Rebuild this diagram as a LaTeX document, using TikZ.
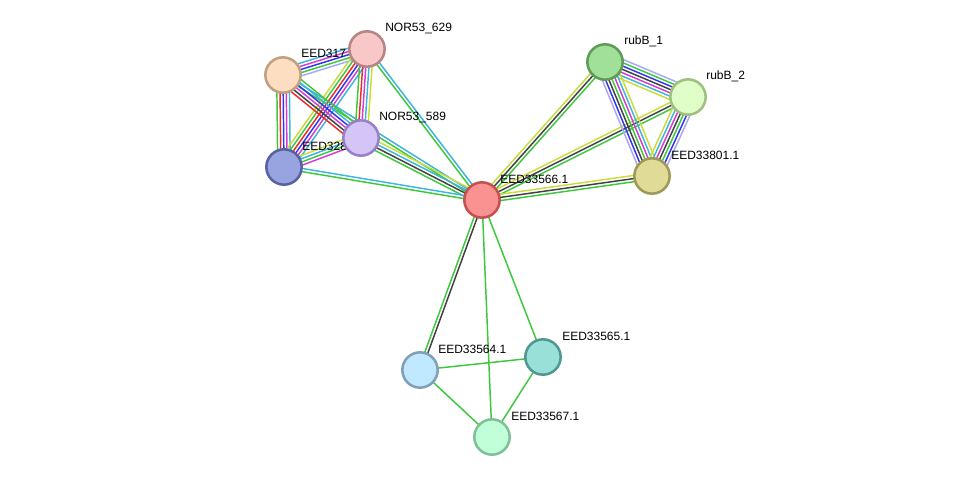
\documentclass[tikz,border=0pt]{standalone}
\usepackage{fontspec}
\setmainfont{Liberation Sans}
\usetikzlibrary{calc}
\pgfdeclarelayer{edges}
\pgfdeclarelayer{labels}
\pgfsetlayers{edges,labels,main}
\definecolor{eg}{HTML}{3CC83C}
\definecolor{er}{HTML}{F02828}
\definecolor{eb}{HTML}{3232F0}
\definecolor{ek}{HTML}{404040}
\definecolor{em}{HTML}{D23CD2}
\definecolor{ec}{HTML}{3CB4DC}
\definecolor{ey}{HTML}{C8DC3C}
\definecolor{el}{HTML}{A8A8F4}
\tikzset{
  prot/.style={circle,inner sep=0pt,minimum size=26.5pt,line width=1.9pt},
  lbl/.style={anchor=west,inner sep=0pt,font=\fontsize{9pt}{10pt}\selectfont,text=black},
  eline/.style={line width=1.1pt}
}
\newcommand\bundle[4]{%
  \foreach \cc [count=\ii] in {#4}{%
    \pgfmathsetmacro\oo{(\ii-(#3+1)/2)*2.35}%
    \draw[eline,draw=\cc] ($(#1)!\oo pt!90:(#2)$) -- ($(#2)!\oo pt!-90:(#1)$);
  }%
}
\begin{document}
\begin{tikzpicture}[x=0.75pt,y=-0.75pt]
\useasboundingbox (0,0) rectangle (975,483);
% nodes
\node[prot,fill={rgb,255:red,250;green,146;blue,146},draw={rgb,255:red,196;green,80;blue,80}] (c) at (482,200) {};
\node[prot,fill={rgb,255:red,248;green,200;blue,200},draw={rgb,255:red,184;green,132;blue,132}] (n629) at (367,49) {};
\node[prot,fill={rgb,255:red,253;green,222;blue,192},draw={rgb,255:red,192;green,160;blue,128}] (e317) at (283,75) {};
\node[prot,fill={rgb,255:red,212;green,196;blue,248},draw={rgb,255:red,152;green,128;blue,200}] (n589) at (361,138) {};
\node[prot,fill={rgb,255:red,152;green,164;blue,224},draw={rgb,255:red,88;green,98;blue,160}] (e328) at (284,167) {};
\node[prot,fill={rgb,255:red,160;green,224;blue,152},draw={rgb,255:red,96;green,156;blue,88}] (rb1) at (605,62) {};
\node[prot,fill={rgb,255:red,224;green,255;blue,200},draw={rgb,255:red,160;green,192;blue,128}] (rb2) at (688,97) {};
\node[prot,fill={rgb,255:red,224;green,220;blue,152},draw={rgb,255:red,160;green,152;blue,88}] (e801) at (652,176) {};
\node[prot,fill={rgb,255:red,192;green,232;blue,255},draw={rgb,255:red,128;green,160;blue,184}] (e64) at (420,370) {};
\node[prot,fill={rgb,255:red,152;green,224;blue,216},draw={rgb,255:red,80;green,152;blue,144}] (e65) at (543,357) {};
\node[prot,fill={rgb,255:red,192;green,255;blue,216},draw={rgb,255:red,128;green,192;blue,152}] (e67) at (492,437) {};
% labels
\begin{pgfonlayer}{labels}
\node[lbl] (lc) at (500,179) {EED33566.1};
\node[lbl] (l629) at (385,28) {NOR53\_629};
\node[lbl] (l317) at (301,53) {EED317};
\node[lbl] (l589) at (379,117) {NOR53\_589};
\node[lbl] (l328) at (302,146) {EED328};
\node[lbl] (lrb1) at (624,41) {rubB\_1};
\node[lbl] (lrb2) at (706,76) {rubB\_2};
\node[lbl] (l801) at (671,155) {EED33801.1};
\node[lbl] (l64) at (438,349) {EED33564.1};
\node[lbl] (l65) at (562,336) {EED33565.1};
\node[lbl] (l67) at (511,416) {EED33567.1};
\end{pgfonlayer}
% edges
\begin{pgfonlayer}{edges}
\bundle{c}{n629}{2}{ec,eg}
\bundle{c}{e317}{2}{ec,eg}
\bundle{c}{n589}{4}{ey,ec,ek,eg}
\bundle{c}{e328}{2}{ec,eg}
\bundle{c}{rb1}{3}{eg,ek,ey}
\bundle{c}{rb2}{3}{eg,ek,ey}
\bundle{c}{e801}{3}{eg,ek,ey}
\bundle{c}{e64}{2}{eg,ek}
\bundle{c}{e65}{1}{eg}
\bundle{c}{e67}{1}{eg}
\bundle{e64}{e65}{1}{eg}
\bundle{e64}{e67}{1}{eg}
\bundle{e65}{e67}{1}{eg}
\bundle{e317}{n629}{5}{el,eg,eb,em,ec}
\bundle{e317}{e328}{5}{eg,er,eb,em,ec}
\bundle{n629}{e328}{6}{ey,eg,er,eb,em,ec}
\bundle{n629}{n589}{5}{eg,er,em,ec,ey}
\bundle{e317}{n589}{6}{er,ek,em,eb,ec,eg}
\bundle{e328}{n589}{4}{em,eg,ec,ey}
\bundle{rb1}{rb2}{7}{ey,ec,em,ek,eb,eg,el}
\bundle{rb1}{e801}{7}{el,eb,ek,eg,em,ec,ey}
\bundle{rb2}{e801}{7}{ey,ec,em,ek,eg,eb,el}
\end{pgfonlayer}
\end{tikzpicture}
\end{document}
